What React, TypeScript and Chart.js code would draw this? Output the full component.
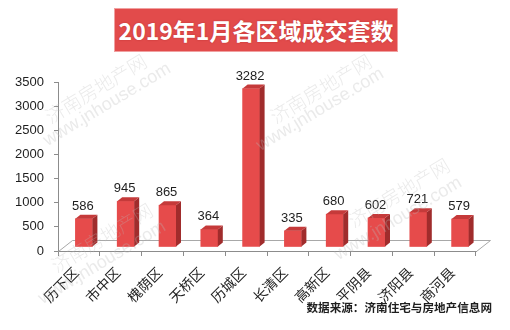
import React, { useEffect, useRef } from "react";
import { Chart, registerables } from "chart.js";

Chart.register(...registerables);

const categories = ["历下区", "市中区", "槐荫区", "天桥区", "历城区", "长清区", "高新区", "平阴县", "济阳县", "商河县"];
const deals = [586, 945, 865, 364, 3282, 335, 680, 602, 721, 579];
const yMin = 0;
const yMax = 3500;
const yStep = 500;
const titleText = "2019年1月各区域成交套数";
const sourceText = "数据来源：济南住宅与房地产信息网";
const watermarkName = "济南房地产网";
const watermarkUrl = "www.jnhouse.com";

const FLOOR_DX = 14;
const FLOOR_DY = 11;
const SHIFT_X = 5;
const SHIFT_Y = 4;
const BAR_DX = 5;
const BAR_DY = 4;

const WM_NAME_POS = [
  [47, 118],
  [272, 118],
  [350, 222],
  [53, 267],
];
const WM_URL_POS = [
  [45, 142],
  [258, 147],
  [336, 256],
  [40, 300],
];

const bar3d = {
  id: "bar3d",
  beforeDatasetsDraw(chart: any) {
    const { ctx, chartArea: a } = chart;
    ctx.save();
    ctx.strokeStyle = "#a8a8a8";
    ctx.lineWidth = 1;
    ctx.beginPath();
    ctx.moveTo(a.left + 0.5, a.bottom + 0.5);
    ctx.lineTo(a.left + FLOOR_DX + 0.5, a.bottom - FLOOR_DY + 0.5);
    ctx.lineTo(a.right + FLOOR_DX + 0.5, a.bottom - FLOOR_DY + 0.5);
    ctx.lineTo(a.right + 0.5, a.bottom + 0.5);
    ctx.stroke();
    ctx.restore();
    ctx.save();
    ctx.translate(SHIFT_X, -SHIFT_Y);
  },
  afterDatasetsDraw(chart: any) {
    const { ctx } = chart;
    const meta = chart.getDatasetMeta(0);
    meta.data.forEach((el: any) => {
      const { x, y, base, width } = el.getProps(["x", "y", "base", "width"], true);
      const l = x - width / 2;
      const r = x + width / 2;
      ctx.fillStyle = "#a02c2c";
      ctx.beginPath();
      ctx.moveTo(r, y);
      ctx.lineTo(r + BAR_DX, y - BAR_DY);
      ctx.lineTo(r + BAR_DX, base - BAR_DY);
      ctx.lineTo(r, base);
      ctx.closePath();
      ctx.fill();
      ctx.fillStyle = "#c53a3a";
      ctx.beginPath();
      ctx.moveTo(l, y);
      ctx.lineTo(l + BAR_DX, y - BAR_DY);
      ctx.lineTo(r + BAR_DX, y - BAR_DY);
      ctx.lineTo(r, y);
      ctx.closePath();
      ctx.fill();
    });
    ctx.restore();

    ctx.save();
    ctx.font = "13px 'Liberation Sans', Arial, sans-serif";
    ctx.fillStyle = "#1e1e1e";
    ctx.textAlign = "center";
    ctx.textBaseline = "alphabetic";
    meta.data.forEach((el: any, i: number) => {
      ctx.fillText(String(deals[i]), el.x + SHIFT_X - 1, el.y - SHIFT_Y - 9);
    });
    ctx.restore();
  },
  afterDraw(chart: any) {
    const { ctx } = chart;
    ctx.save();
    ctx.fillStyle = "rgba(185,185,185,0.3)";
    ctx.textAlign = "left";
    ctx.textBaseline = "middle";
    const ang = (-31 * Math.PI) / 180;
    WM_NAME_POS.forEach(([px, py]) => {
      ctx.save();
      ctx.translate(px, py);
      ctx.rotate(ang);
      ctx.font = "300 19px 'Noto Sans CJK SC', sans-serif";
      ctx.fillText(watermarkName, 0, 0);
      ctx.restore();
    });
    WM_URL_POS.forEach(([px, py]) => {
      ctx.save();
      ctx.translate(px, py);
      ctx.rotate(ang);
      ctx.font = "18px 'Liberation Sans', Arial, sans-serif";
      ctx.fillText(watermarkUrl, 0, 0);
      ctx.restore();
    });
    ctx.restore();
  },
};

export default function App() {
  const ref = useRef<HTMLCanvasElement | null>(null);

  useEffect(() => {
    if (!ref.current) return;
    const chart = new Chart(ref.current, {
      type: "bar",
      data: {
        labels: categories,
        datasets: [
          {
            data: deals,
            backgroundColor: "#e64b4b",
            borderWidth: 0,
            barThickness: 17,
          },
        ],
      },
      options: {
        responsive: false,
        animation: false,
        devicePixelRatio: 1,
        layout: { padding: { left: 0, top: 82, right: 34, bottom: 0 } },
        plugins: {
          legend: { display: false },
          tooltip: { enabled: false },
          title: { display: false },
        },
        scales: {
          x: {
            grid: {
              display: true,
              drawOnChartArea: false,
              drawTicks: true,
              tickLength: 5,
              color: "#8c8c8c",
              offset: true,
            },
            border: { display: true, color: "#8c8c8c" },
            ticks: {
              color: "#1e1e1e",
              font: { family: "'Noto Sans CJK SC', sans-serif", size: 14 },
              minRotation: 45,
              maxRotation: 45,
              padding: 8,
              labelOffset: -3,
              autoSkip: false,
            },
            afterFit(scale: any) {
              scale.height = 79;
            },
          },
          y: {
            min: yMin,
            max: yMax,
            grid: {
              display: true,
              drawOnChartArea: false,
              drawTicks: true,
              tickLength: 4,
              color: "#8c8c8c",
            },
            border: { display: true, color: "#8c8c8c" },
            ticks: {
              stepSize: yStep,
              color: "#1e1e1e",
              font: { family: "'Liberation Sans', Arial, sans-serif", size: 13 },
              padding: 10,
              callback: (v: any) => String(v),
            },
            afterFit(scale: any) {
              scale.width = 58;
            },
          },
        },
      },
      plugins: [bar3d],
    });
    return () => chart.destroy();
  }, []);

  return (
    <div style={{ position: "fixed", left: 0, top: 0, width: 510, height: 330, background: "#fff" }}>
      <canvas ref={ref} width={510} height={330} style={{ position: "absolute", left: 0, top: 0 }} />
      <div
        style={{
          position: "absolute",
          left: 114,
          top: 8,
          width: 282,
          height: 42,
          background: "#e24b4b",
          border: "1px solid #f0a0a0",
          color: "#fff",
          fontFamily: "'Noto Sans CJK SC', sans-serif",
          fontWeight: 700,
          fontSize: 23,
          lineHeight: "42px",
          textAlign: "center",
          whiteSpace: "nowrap",
          textShadow: "0 0 2px rgba(120,0,0,0.35)",
        }}
      >
        {titleText}
      </div>
      <div
        style={{
          position: "absolute",
          right: 18,
          top: 299,
          color: "#1e1e1e",
          fontFamily: "'Noto Sans CJK SC', sans-serif",
          fontWeight: 700,
          fontSize: 11.6,
          lineHeight: "16px",
          whiteSpace: "nowrap",
        }}
      >
        {sourceText}
      </div>
    </div>
  );
}
